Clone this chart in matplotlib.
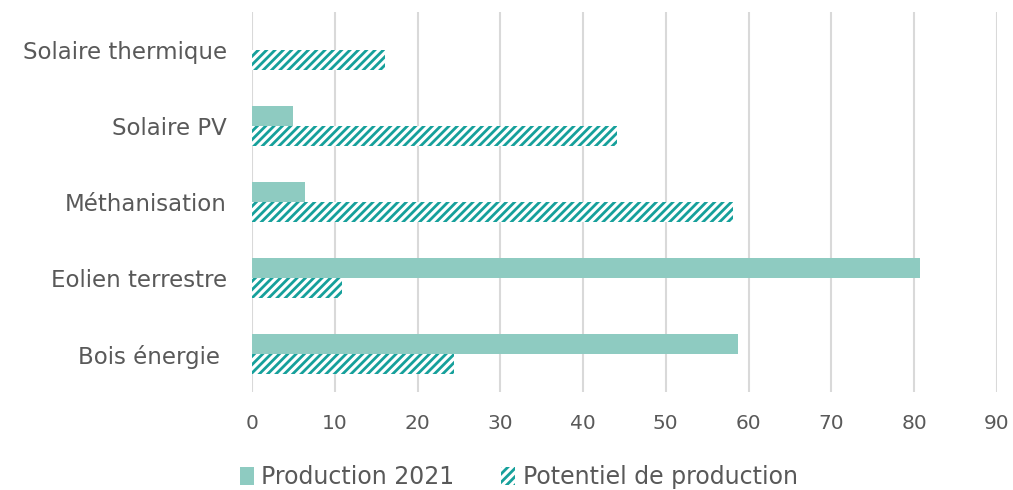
import numpy as np
import matplotlib

matplotlib.use("Agg")
import matplotlib.pyplot as plt

# Data
CATEGORIES = ["Bois énergie ", "Eolien terrestre", "Méthanisation", "Solaire PV", "Solaire thermique"]
PRODUCTION_2021 = [58.7, 80.7, 6.4, 4.9, 0.0]
POTENTIEL = [24.4, 10.9, 58.1, 44.1, 16.1]
X_TICKS = [0, 10, 20, 30, 40, 50, 60, 70, 80, 90]

PROD_COLOR = "#8ecbc1"
HATCH_COLOR = "#16a09b"
GRID_COLOR = "#d9d9d9"
TEXT_COLOR = "#595959"

plt.rcParams["font.family"] = ["DejaVu Sans"]
plt.rcParams["hatch.linewidth"] = 2.0

fig = plt.figure(figsize=(10.13, 4.90), dpi=100)
ax = fig.add_axes([0.2488, 0.2, 0.7352, 0.7755])

y = np.arange(len(CATEGORIES))
h = 0.26
ax.barh(y + h / 2, PRODUCTION_2021, height=h, color=PROD_COLOR,
        label="Production 2021", zorder=3)
ax.barh(y - h / 2, POTENTIEL, height=h, color="white", edgecolor=HATCH_COLOR,
        hatch="////", linewidth=0, label="Potentiel de production", zorder=3)

ax.set_xlim(0, 90)
ax.set_ylim(-0.5, len(CATEGORIES) - 0.5)
ax.set_xticks(X_TICKS)
ax.set_yticks(y)
ax.set_yticklabels(CATEGORIES)
ax.grid(True, axis="x", color=GRID_COLOR, linewidth=1.5, zorder=0)
ax.set_axisbelow(True)
for s in ax.spines.values():
    s.set_visible(False)
ax.tick_params(axis="both", length=0, colors=TEXT_COLOR)
ax.tick_params(axis="x", labelsize=14.5, pad=16)
ax.tick_params(axis="y", labelsize=16.5, pad=18)

leg = fig.legend(loc="lower center", bbox_to_anchor=(0.512, -0.042), ncol=2,
                 frameon=False, fontsize=17, handlelength=0.6, handleheight=0.8,
                 handletextpad=0.3, columnspacing=2.0)
for t in leg.get_texts():
    t.set_color(TEXT_COLOR)

fig.savefig("out.png", dpi=100)
